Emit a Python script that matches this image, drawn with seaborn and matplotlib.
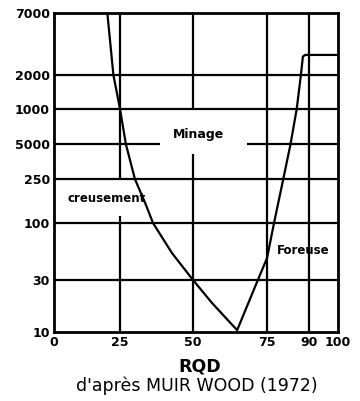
import numpy as np
import pandas as pd
import seaborn as sns
import matplotlib
matplotlib.use("Agg")
import matplotlib.pyplot as plt

# data (RQD vs value)
rqd = [20.2, 22.5, 25, 27, 30.1, 33.6, 36.3, 42.8, 50, 56.4, 64.9,
       71.9, 75, 77.5, 80.8, 83.4, 85.6, 87.1, 87.8, 88.6, 100]
val = [7000, 2000, 1000, 500, 250, 152, 100, 53, 30, 18.5, 10.4,
       30, 47.7, 100, 250, 500, 1000, 2000, 2900, 3000, 3000]

x_ticks = [0, 25, 50, 75, 90, 100]
y_ticks = [10, 30, 100, 250, 500, 1000, 2000, 7000]
y_ticklabels = ["10", "30", "100", "250", "5000", "1000", "2000", "7000"]

# printed scales are not quite regular, so map the tick anchors
x_pos = [0, 66, 139, 213, 255, 284]
y_pos = [0, 52, 109, 153, 188, 223, 257, 319]
y_log = np.log10(y_ticks)

def fx(v):
    return np.interp(v, x_ticks, x_pos)

def fx_inv(p):
    return np.interp(p, x_pos, x_ticks)

def fy(v):
    v = np.clip(np.asarray(v, dtype=float), 1e-6, None)
    return np.interp(np.log10(v), y_log, y_pos)

def fy_inv(p):
    return 10 ** np.interp(p, y_pos, y_log)

df = pd.DataFrame({"RQD": rqd, "val": val})

sns.set_style("white")
plt.rcParams["font.family"] = ["DejaVu Sans"]
plt.rcParams["text.color"] = "black"
plt.rcParams["xtick.color"] = "black"
plt.rcParams["ytick.color"] = "black"

fig = plt.figure(figsize=(3.6, 4.01), dpi=100)
ax = fig.add_axes([0.15, 0.172, 0.789, 0.7956])
ax.set_xscale("function", functions=(fx, fx_inv))
ax.set_yscale("function", functions=(fy, fy_inv))
ax.set_xlim(0, 100)
ax.set_ylim(10, 7000)

# grid lines, with the gaps left for the labels
lw = 1.6
ax.hlines([30, 100, 250, 1000, 2000], 0, 100, color="black", lw=lw, zorder=1)
ax.hlines(500, 0, 38.7, color="black", lw=lw, zorder=1)
ax.hlines(500, 68.2, 100, color="black", lw=lw, zorder=1)
ax.vlines([75, 90], 10, 7000, color="black", lw=lw, zorder=1)
ax.vlines(25, 10, 116, color="black", lw=lw, zorder=1)
ax.vlines(25, 250, 7000, color="black", lw=lw, zorder=1)
ax.vlines(50, 10, 410, color="black", lw=lw, zorder=1)
ax.vlines(50, 1000, 7000, color="black", lw=lw, zorder=1)

sns.lineplot(data=df, x="RQD", y="val", sort=False, color="black",
             lw=1.6, ax=ax, zorder=3)

for s in ax.spines.values():
    s.set_linewidth(2)
    s.set_color("black")

ax.set_xticks(x_ticks)
ax.set_xticklabels([str(t) for t in x_ticks], fontsize=9, fontweight="bold")
ax.set_yticks(y_ticks)
ax.set_yticklabels(y_ticklabels, fontsize=9, fontweight="bold")
ax.yaxis.set_minor_locator(matplotlib.ticker.NullLocator())
ax.xaxis.set_minor_locator(matplotlib.ticker.NullLocator())
ax.tick_params(length=0, pad=3)
ax.set_ylabel("")
ax.set_xlabel("")

ax.text(51.7, 600, "Minage", ha="center", va="center", fontsize=9, fontweight="bold")
ax.text(5.3, 168, "creusement", ha="left", va="center", fontsize=8.5, fontweight="bold")
ax.text(78.6, 56.5, "Foreuse", ha="left", va="center", fontsize=8.5, fontweight="bold")

fig.text(200 / 360, 1 - 366 / 401, "RQD", ha="center", va="center",
         fontsize=12.5, fontweight="bold")
fig.text(197 / 360, 1 - 386 / 401, "d'après MUIR WOOD (1972)", ha="center",
         va="center", fontsize=12.5)

fig.savefig("out.png", dpi=100)
